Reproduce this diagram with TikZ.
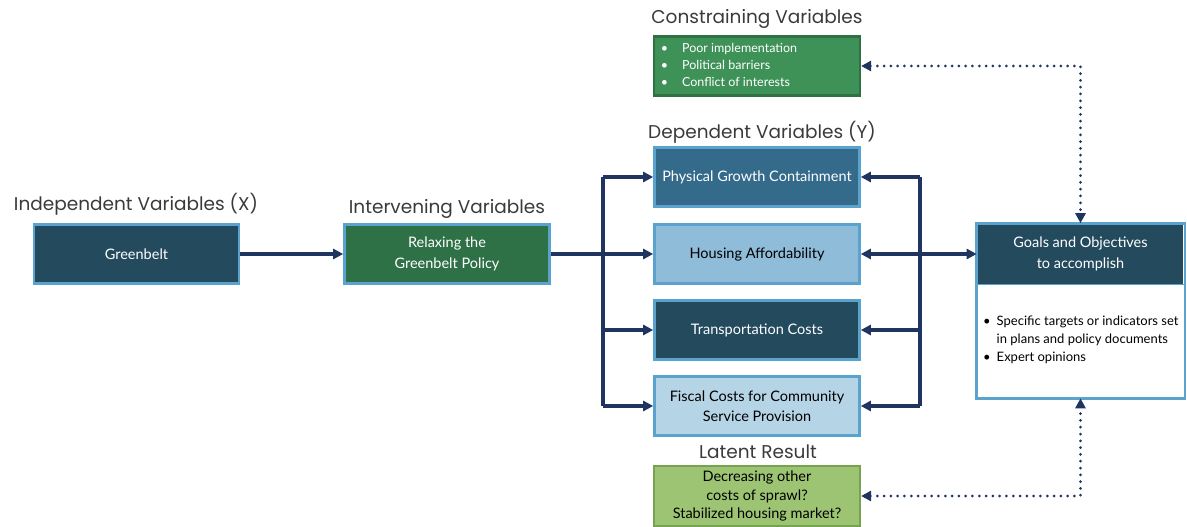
\documentclass[tikz,border=0pt]{standalone}
\usepackage{fontspec}
\setmainfont{Lato}
\newfontfamily\headfont{Poppins}
\usetikzlibrary{arrows.meta}
\definecolor{navy}{HTML}{1F3560}
\definecolor{darkteal}{HTML}{244A5E}
\definecolor{midblue}{HTML}{346B8B}
\definecolor{lightblue}{HTML}{8FBCD9}
\definecolor{paleblue}{HTML}{B5D4E6}
\definecolor{edgeblue}{HTML}{5BA3CF}
\definecolor{polgreen}{HTML}{2F7147}
\definecolor{congreen}{HTML}{3E9257}
\definecolor{conedge}{HTML}{2F7142}
\definecolor{latgreen}{HTML}{9DC472}
\definecolor{latedge}{HTML}{76A350}
\definecolor{headgray}{HTML}{3A3A3A}
\tikzset{
  box/.style={draw=edgeblue, line width=2.6pt, minimum width=205pt, minimum height=59pt,
    inner sep=0pt, align=center, font=\fontsize{14.5}{20.5}\selectfont},
  darkbox/.style={box, fill=darkteal, text=white},
  heading/.style={font=\headfont\fontsize{18.5}{22}\selectfont, text=headgray, inner sep=0pt},
  conn/.style={draw=navy, line width=3.4pt},
  arr/.style={conn, -{Triangle[length=10pt,width=10pt]}},
  dots/.style={draw=navy, line width=3pt, line cap=round, dash pattern=on 0pt off 6.8pt},
  dotarr/.style={dots, {Triangle[length=10pt,width=10pt]}-{Triangle[length=10pt,width=10pt]}}
}
\begin{document}
\begin{tikzpicture}[x=1pt,y=-1pt]
\useasboundingbox (0,0) rectangle (1187,527);

% headings
\node[heading] (hindep) at (136,204) {Independent Variables (X)};
\node[heading] (hinter) at (447,209) {Intervening Variables};
\node[heading] (hdep) at (762,132) {Dependent Variables (Y)};
\node[heading] (hcons) at (757,19) {Constraining Variables};
\node[heading] (hlat) at (758,452) {Latent Result};

% left chain
\node[darkbox] (green) at (136.5,254) {Greenbelt};
\node[box, fill=polgreen, text=white] (relax) at (447,254) {Relaxing the\\Greenbelt Policy};

% dependent variables
\node[box, fill=midblue, text=white] (phys) at (757,177) {\raisebox{-2pt}{Physical Growth Containment}};
\node[box, fill=lightblue, text=black] (house) at (757,254) {\raisebox{-1pt}{Housing Affordability}};
\node[darkbox] (trans) at (757,330) {\raisebox{-1pt}{Transportation Costs}};
\node[box, fill=paleblue, text=black] (fisc) at (757,406) {Fiscal Costs for Community\\Service Provision};

% constraining and latent boxes
\node[box, draw=conedge, fill=congreen, text=white, minimum width=206pt, minimum height=59pt,
  line width=2.2pt, align=left, font=\fontsize{12.5}{17}\selectfont] (cons) at (757,66)
  {\raisebox{-2pt}{\begin{tabular}{@{}l@{\hspace{14pt}}l@{}}
   \textbullet & Poor implementation\\
   \textbullet & Political barriers\\
   \textbullet & Conflict of interests
   \end{tabular}}\hspace{56pt}};
\node[box, draw=latedge, fill=latgreen, text=black, minimum width=206pt, minimum height=60pt,
  line width=2.2pt, font=\fontsize{14.5}{18.5}\selectfont] (lat) at (757,496)
  {Decreasing other\\costs of sprawl?\\Stabilized housing market?};

% goals box
\node[box, draw=none, fill=white, minimum width=206pt, minimum height=113pt] (gbody) at (1080.5,340.5) {};
\node[darkbox, draw=none, fill=darkteal] (ghead) at (1080.5,254) {Goals and Objectives\\to accomplish};
\draw[edgeblue, line width=2.6pt] (ghead.north west) rectangle (gbody.south east);
\draw[edgeblue, line width=1.2pt] (ghead.south west) -- (ghead.south east);
\node[anchor=north west, inner sep=0pt, font=\fontsize{13}{18}\selectfont, text=black, align=left] (gtext) at (983,313)
  {\begin{tabular}{@{}l@{\hspace{6pt}}l@{}}
   \textbullet & Specific targets or indicators set\\
               & in plans and policy documents\\
   \textbullet & Expert opinions
   \end{tabular}};

% connectors
\coordinate (lbus) at (603,254);
\coordinate (rbus) at (920,254);
\draw[arr] (green) -- (relax);
\draw[arr] (relax.east) -- (house.west);
\draw[conn] (phys.west -| lbus) -- (fisc.west -| lbus);
\draw[arr] (phys.west -| lbus) -- (phys.west);
\draw[arr] (trans.west -| lbus) -- (trans.west);
\draw[arr] (fisc.west -| lbus) -- (fisc.west);
\draw[conn, {Triangle[length=10pt,width=10pt]}-{Triangle[length=10pt,width=10pt]}] (house.east) -- (ghead.west);
\draw[conn] (phys.east -| rbus) -- (fisc.east -| rbus);
\draw[arr] (phys.east -| rbus) -- (phys.east);
\draw[arr] (trans.east -| rbus) -- (trans.east);
\draw[arr] (fisc.east -| rbus) -- (fisc.east);

\draw[dotarr] (cons.east) -| (ghead.north);
\draw[dotarr] (lat.east) -| (gbody.south);
\end{tikzpicture}
\end{document}
